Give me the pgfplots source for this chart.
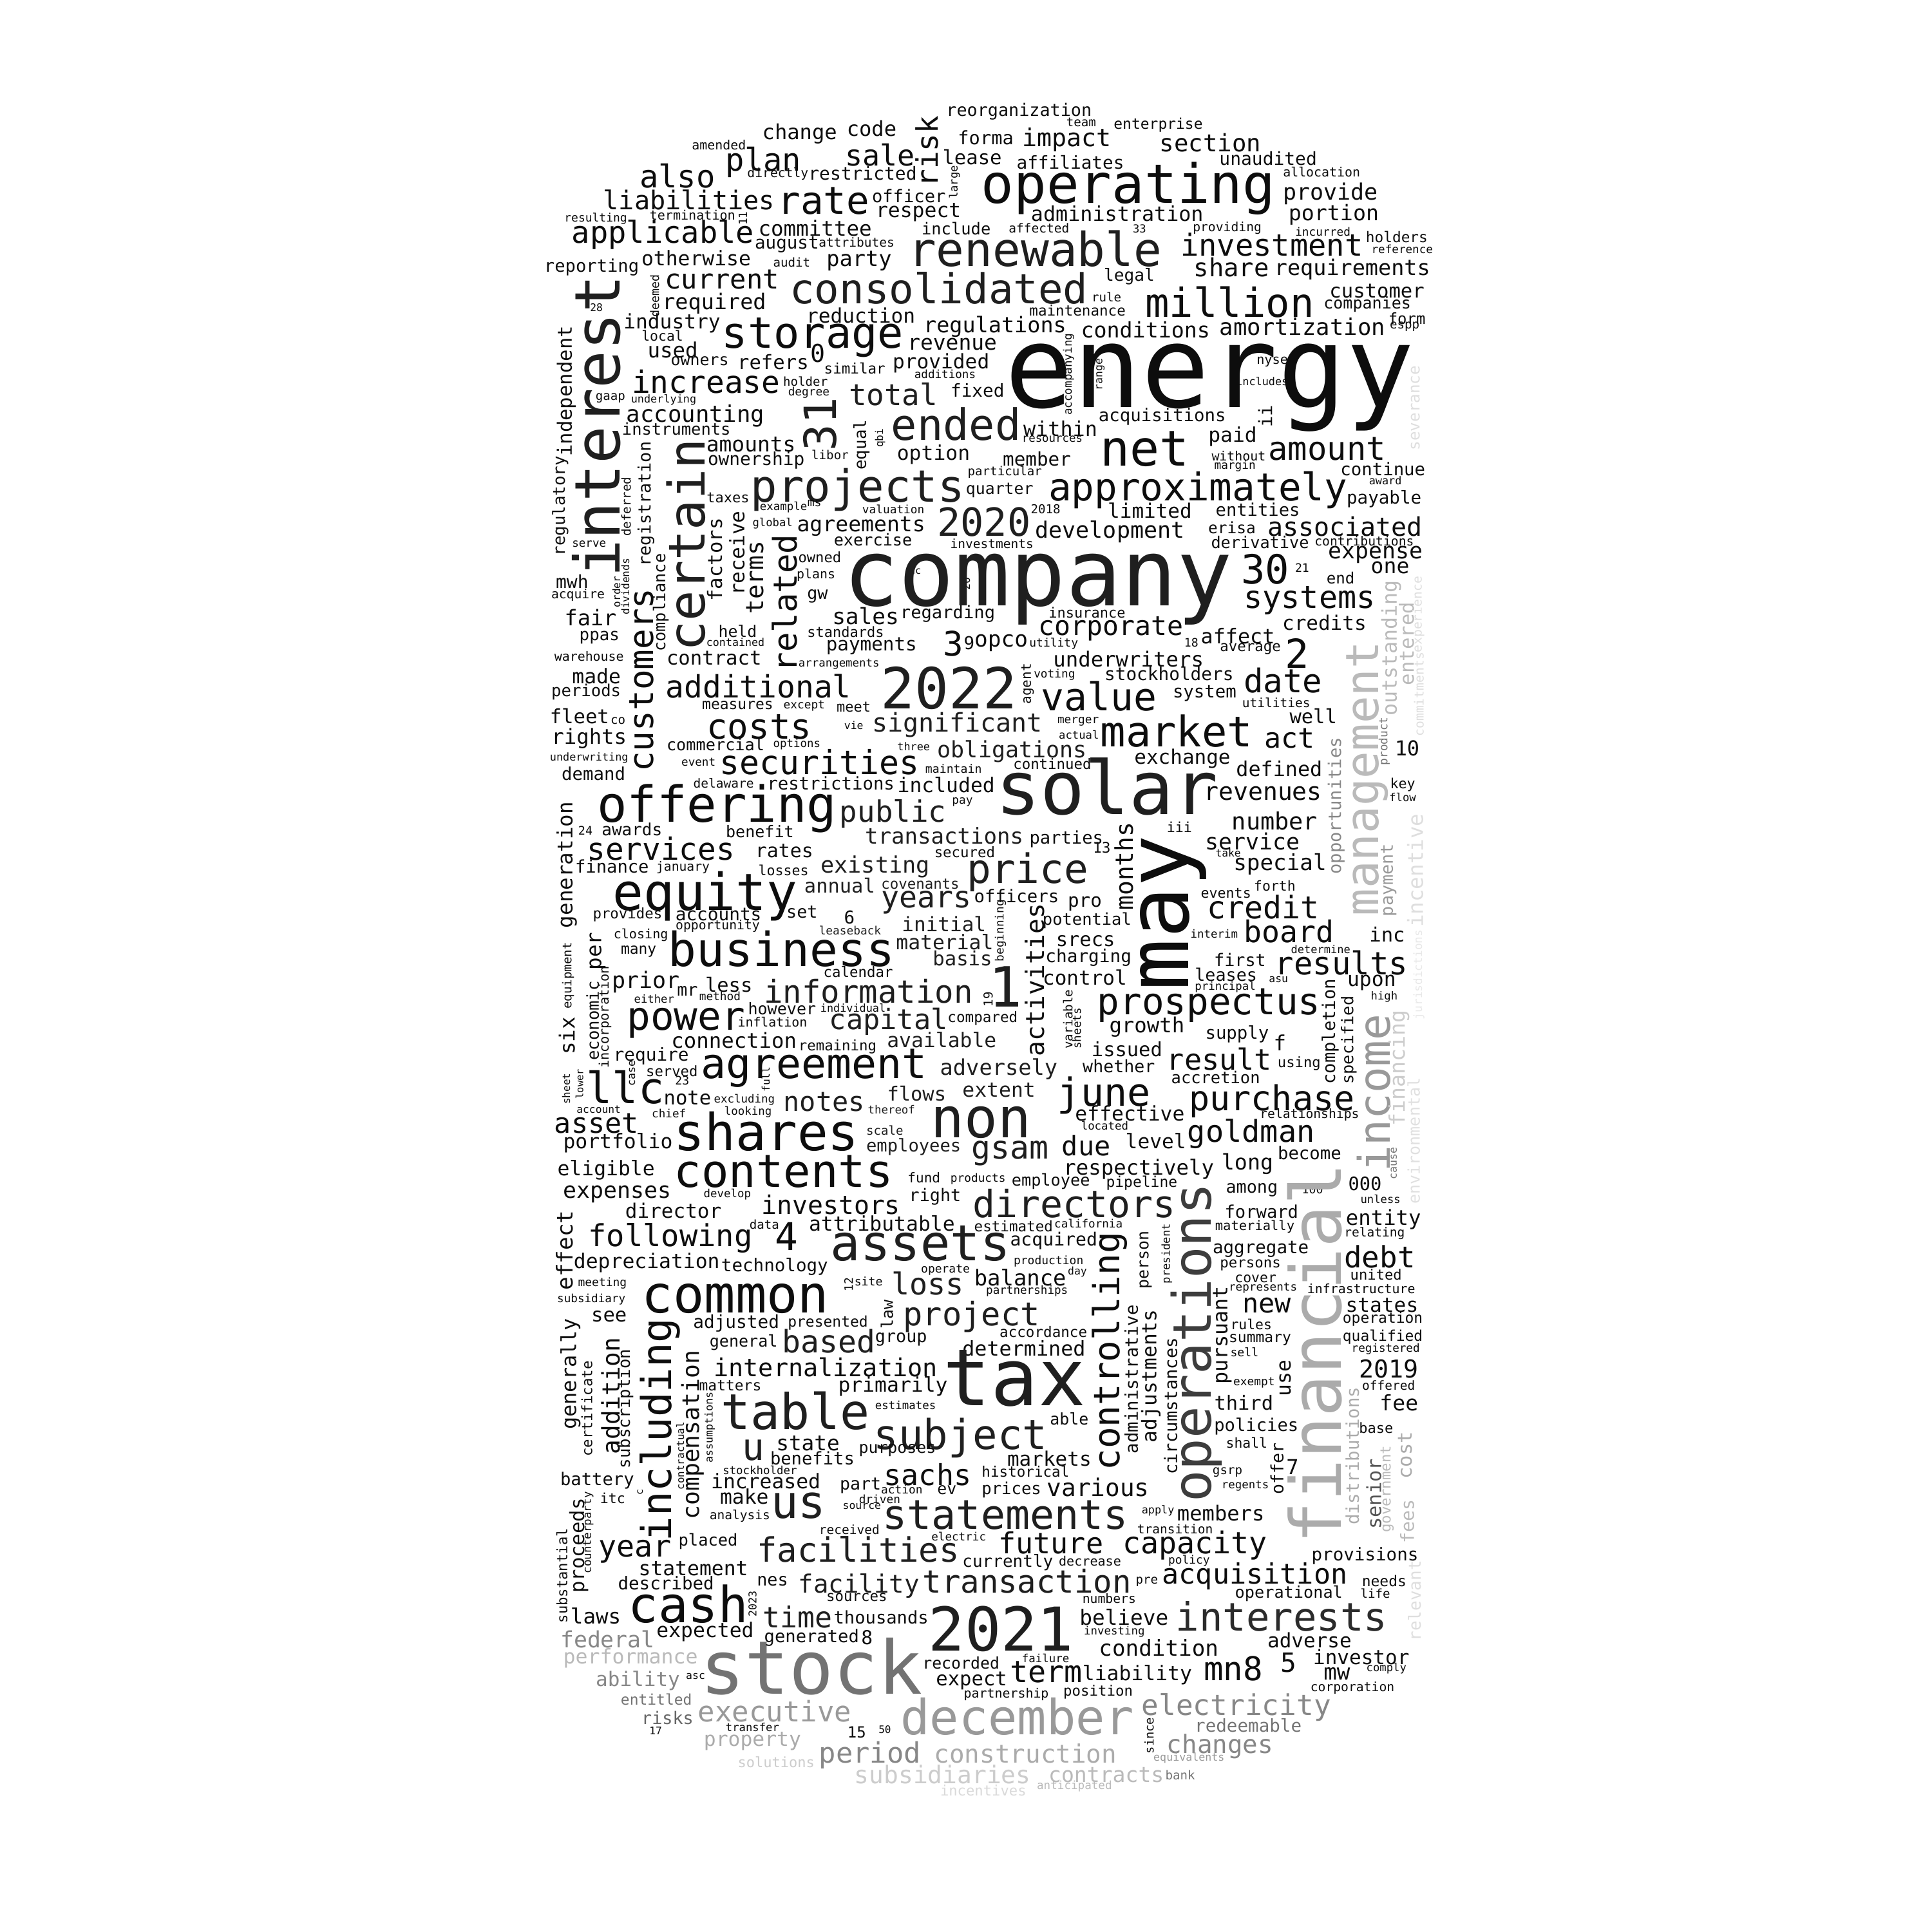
\documentclass[border=0pt]{standalone}
\usepackage{pgfplots}
\pgfplotsset{compat=1.18}
\usepackage{pgfplotstable}
\usepackage{fontspec}
\setmainfont{DejaVu Sans Mono}
\pgfplotstableread{
x y s r g w
827 90.5 14 0 95 reorganization
649 108.4 16.8 0 95 change
707.4 104.3 16.8 0 95 code
752.3 123 24 90 95 risk
800 111.5 15 0 95 forma
865.8 113.4 20 0 95 impact
877.5 99.3 10 0 95 team
940 101.3 12 0 95 enterprise
982.3 116 19.5 0 95 section
583.5 117.5 10.4 0 95 amended
619.6 131.7 25.5 0 95 plan
714.2 125.6 23.5 0 95 sale
789 127.6 16 0 95 lease
868.7 131.7 14.5 0 95 affiliates
1029.2 128.6 14.6 0 95 unaudited
549.8 142.8 25.5 0 95 also
631.3 141.3 10.3 0 95 directly
700.1 140.8 14.6 0 95 restricted
774.7 147.9 9 90 95 large
915.7 152.9 44 0 95 operating
559.1 162 21 0 95 liabilities
668.4 163 31 0 95 rate
737.6 159 14.2 0 95 officer
745.4 172.2 16.4 0 95 respect
483.5 177.7 9.4 0 95 resulting
562 174.7 10.5 0 95 termination
603 177.2 9.3 90 95 11
661.5 185.3 17 0 95 committee
776 185.3 13.3 0 95 include
906.7 173.2 16.6 0 95 administration
843.3 185.3 10.2 0 95 affected
924.8 185.8 9 0 95 33
996 185.3 10.3 0 95 providing
1079.9 157 18.3 0 95 provide
1082.4 174.2 17.4 0 95 portion
1072.6 139.8 10.4 0 95 allocation
1073.6 187.9 9.3 0 95 incurred
1133.6 192.4 11.9 0 95 holders
1138 202 9.2 0 95 reference
538.1 190.4 24.6 0 95 applicable
638.6 198.5 14.4 0 95 august
695.2 196.5 10.2 0 95 attributes
840 202 38 0 88 renewable
1032.1 198.5 24.6 0 95 investment
999.4 216.7 20.3 0 95 share
1097.5 218.8 17.5 0 95 requirements
480.1 216.7 14.2 0 95 reporting
565 209.6 16.4 0 95 otherwise
697.2 211.7 17.6 0 95 party
642.5 212.7 10 0 95 audit
586 226.9 22 0 95 current
531.3 240 9.6 90 95 deemed
484 249.6 8.5 0 95 28
579.6 246.1 17.5 0 95 required
762 234 33.5 0 88 consolidated
916.5 224.3 13.7 0 95 legal
898 241 10 0 95 rule
998 245 32.5 0 95 million
1117.5 236 16 0 95 customer
1109.7 247.1 13.1 0 95 companies
1141.8 258.3 12.5 0 95 form
1140 265.3 10 0 95 espp
874.5 252.2 11.8 0 95 maintenance
929.7 267.4 17.4 0 95 conditions
1057 265.3 18.6 0 95 amortization
807.5 265.3 17.5 0 95 regulations
698.6 256.2 16.3 0 95 reduction
772.8 279.5 17.2 0 95 revenue
763.7 294.7 16.3 0 95 provided
767 303.4 9.2 0 95 additions
659.6 274 35 0 95 storage
664 286.6 20 0 95 0
545.4 262.3 16.3 0 95 industry
537.6 272.4 11.2 0 95 local
546 284 17 0 95 used
567.9 293.2 13 0 95 owners
627.4 293.7 16 0 95 refers
693.7 298.8 11.8 0 95 similar
653.7 309.4 10 0 95 holder
656.4 318.5 9.3 0 95 degree
573 310 25 0 95 increase
725 320 24 0 88 total
793.3 317 14.5 0 95 fixed
484 345.9 51 90 88 interest
459.6 317.5 16 90 95 independent
495.4 323 10 0 95 gaap
538.6 324.6 8.8 0 95 underlying
564.5 337.3 18.6 0 95 accounting
548.9 347.9 13.3 0 95 instruments
665.4 344.4 36 90 88 31
776 344.4 35 0 88 ended
699.1 361 13.5 90 95 equal
714.3 355.5 8.5 90 95 qbi
609.5 360.6 17.2 0 95 amounts
613.7 373.7 14.5 0 95 ownership
673.7 369.3 10 0 95 libor
757.6 368.8 16.4 0 95 option
929.2 364.6 40 0 95 net
860.6 347.9 16.6 0 95 within
854 356.5 9.1 0 95 resources
867.2 303.8 9.2 90 95 accompanying
893.1 303.8 8.7 90 95 range
1032.6 293.7 10.6 0 95 nyse
1024.3 309.4 8.8 0 95 includes
982 314.9 92 0 95 energy
1148.7 331.2 12.7 90 13 severance
943.3 338.3 14.3 0 95 acquisitions
1026.7 338 15 90 95 ii
1000.4 354.5 16.4 0 95 paid
1005.3 370.2 10.4 0 95 without
1002.3 378.3 9.3 0 95 margin
1077.1 364.6 26.4 0 95 amount
1122.3 380.8 14.3 0 95 continue
1124.3 389.9 8.8 0 95 award
1123.3 405.1 14.4 0 95 payable
841.5 372.7 15.3 0 95 member
815.5 383.3 10 0 95 particular
811.3 398 13 0 95 quarter
848.6 413.2 10 0 95 2018
696 397.5 36 0 88 projects
590.9 404.1 11.5 0 95 taxes
635.9 411.7 9.1 0 95 example
661 408.7 9.5 0 95 ms
725 413.2 9.3 0 95 valuation
972.2 397.5 31 0 95 approximately
933.2 414.2 16.2 0 95 limited
1020.8 413.7 14.2 0 95 entities
798.6 423.7 31.5 0 88 2020
454.7 410.7 13.5 90 95 regulatory
524.3 409 14 90 95 registration
508.1 411.2 10 90 95 deferred
556.7 442.5 41 90 88 certain
520.7 552 27.5 90 95 customers
580 454.2 16 90 95 factors
598 449 16.3 90 95 receive
613 468.7 19.7 90 95 terms
637 489.5 26.5 90 95 related
698.9 427 17.3 0 95 agreements
627 424.7 9 0 95 global
708.5 438 13.2 0 95 exercise
805 441 10.2 0 95 investments
665.3 452 11.6 0 95 owned
662.3 466.5 10.4 0 95 plans
742.7 463.9 8 0 95 uc
784 473.8 8.7 90 95 20
464.3 472 14.6 0 95 mwh
478.1 441.7 9.2 0 95 serve
469.1 483 10.3 0 95 acquire
500.3 480.4 8.4 90 95 order
507.5 476 8.5 90 95 dividends
536.3 489.1 13.2 90 95 compliance
479.3 501.3 17.5 0 95 fair
486.5 517.4 13.5 0 95 ppas
478.1 532.6 10.4 0 95 warehouse
484.1 548.8 16.4 0 95 made
598.7 512.2 13 0 95 held
596.9 521.3 8.7 0 95 contained
579.5 534 16 0 95 contract
663.5 483.9 14 0 95 gw
702.5 500 18 0 95 sales
769.1 498 14.2 0 95 regarding
686.3 513 11.5 0 95 standards
707.3 524.3 15.3 0 95 payments
680.9 538.8 9.1 0 95 arrangements
773.9 522.2 27.4 0 95 3
786.5 521.7 14.4 0 95 9
812.5 522 18 0 95 opco
770 558.5 46 0 88 2022
615.5 556.7 25 0 95 additional
842.5 478.2 75 0 88 company
1026.8 462.1 32.5 0 95 30
1056.8 460.8 9.5 0 95 21
900.8 431.6 18.3 0 95 development
999.8 428.2 12.8 0 95 erisa
1091.6 427.3 20.9 0 95 associated
1022.6 440.3 13.2 0 95 derivative
1107.2 439 10.3 0 95 contributions
1116.2 450 18.2 0 95 expense
1128.2 460.8 17.3 0 95 one
1088 469.1 12.6 0 95 end
1062.8 487.4 25.3 0 95 systems
882.2 497 11.5 0 95 insurance
901.4 510 21.7 0 95 corporate
1074.8 505.2 16.2 0 95 credits
1004.6 516 16.6 0 95 affect
966.8 521.6 9.5 0 95 18
855.2 522.5 9.4 0 95 utility
1014.8 526.8 11.7 0 95 average
1052.6 530 32.4 0 95 2
915.8 534.8 16.9 0 95 underwriters
948.8 546.6 14.5 0 95 stockholders
855.8 547.5 9.3 0 95 voting
834 554.9 11 90 95 agent
1041.2 552.3 26.5 0 95 date
1109.5 632 37 90 27 management
1129 526 16.6 90 27 outstanding
1141.4 522.4 16 90 27 entered
1151 498.7 10.3 90 13 experience
1151.6 563.6 10.3 90 13 commitments
475.7 561.4 13.4 0 95 periods
470.3 581 16 0 95 fleet
501.5 585 10 0 95 co
478.1 599.3 16.9 0 95 rights
478.1 615 8.8 0 95 underwriting
481.7 628 14.3 0 95 demand
460 702 17 90 95 generation
475.1 674.2 9.6 0 95 24
512.9 673.3 13.6 0 95 awards
536.3 688.6 24.9 0 95 services
496.7 703.4 14.2 0 95 finance
554.3 704.3 10.3 0 95 january
509.3 742.2 11.7 0 95 provides
485 772 17 90 95 per
461 791.8 10 90 95 equipment
520.1 758.8 10.5 0 95 closing
518.3 772 12 0 95 many
572.3 727.5 41.5 0 95 equity
583.1 742.2 14.5 0 95 accounts
582.5 751.8 10.3 0 95 opportunity
650.9 740.4 14 0 95 set
634.2 770 38.1 0 95 business
616.1 589.8 28.3 0 95 costs
598.7 572.4 12 0 95 measures
652.7 572.8 9.3 0 95 except
692.9 574 11.5 0 95 meet
580.7 604.1 13.2 0 95 commercial
646.7 604.1 9.1 0 95 options
692.9 588.9 8.6 0 95 vie
777 588.5 20.9 0 88 significant
741.5 605.8 8.8 0 95 three
821.5 609.7 18.3 0 88 obligations
773.9 623.7 9.5 0 95 maintain
665.3 618.4 26.9 0 95 securities
566.9 618.5 9.2 0 95 event
587.3 635.9 10.2 0 95 delaware
674.3 635.5 14.3 0 95 restrictions
767.9 637.2 16.4 0 95 included
581.9 656 40.4 0 95 offering
724.7 660.7 23.9 0 88 public
781.1 651.1 9.3 0 95 pay
616.7 674.7 13.1 0 95 benefit
766.3 678.2 17.8 0 88 transactions
636.5 690.8 15.6 0 95 rates
782.9 691.7 11.7 0 95 secured
710.3 703.4 18.4 0 88 existing
635.9 706.5 11.3 0 95 losses
681.5 718.6 15.9 0 88 annual
746.9 717.3 11.7 0 88 covenants
834 708 32.8 0 88 price
825 727 14.3 0 95 officers
751.7 732.6 24.3 0 88 years
689.3 744.7 14.4 0 95 6
689.9 755.2 9.3 0 88 leaseback
766.1 750 16.2 0 88 initial
766.7 764.4 16.4 0 88 material
781.1 777.9 16 0 88 basis
696.5 788.8 11.7 0 95 calendar
812 755.3 9.3 90 95 beginning
891.8 564.9 31.2 0 95 value
977.6 562.7 14.3 0 95 system
1035.8 570.2 10.2 0 95 utilities
1065.8 581 15.9 0 95 well
875 585.8 9.3 0 95 merger
875.6 596.3 9 0 95 actual
954.8 593.2 34.2 0 95 market
1046.6 599.3 22.6 0 95 act
959.6 615.5 16.2 0 95 exchange
854 620.2 11.7 0 95 continued
1038.2 623.7 16.6 0 95 defined
898.5 638.5 60 0 88 solar
1025 644.2 19.9 0 95 revenues
1034.6 666.4 19.3 0 95 number
957.2 671.2 11.3 0 95 iii
865.4 681.2 14.2 0 95 parties
894.2 688.1 11.9 0 95 13
912.2 703 19.8 90 95 months
1016.6 683 18.2 0 95 service
996.8 692.1 8.5 0 95 take
1038.8 701.2 17.9 0 95 special
952 740.9 70 90 95 may
1084.4 654 14.2 90 47 opportunities
1123.4 601.5 9.3 90 55 product
1142 607.2 16.7 0 95 10
1138.4 636.8 11.3 0 95 key
1138.4 647.2 9 0 95 flow
1127 714.3 14 90 40 payment
1148.6 706.5 17 90 13 incentive
1151.5 791 9.3 90 9 jurisdictions
882.2 747 13.3 0 95 potential
880.4 733.5 15.3 0 95 pro
840 795.3 20.6 90 95 activities
881 763.5 15.9 0 95 srecs
883.4 777 14.5 0 95 charging
985.4 757.9 9.1 0 95 interim
995 724.8 11.3 0 95 events
1034.6 718.7 11.2 0 95 forth
1025 736.1 25.2 0 95 credit
1046 756.1 24.3 0 95 board
1125.8 758.3 16 0 95 inc
1071.8 770.5 8.9 0 95 determine
1006.4 778.8 14 0 95 first
1088.6 781.4 25.6 0 95 results
995 791 14 0 95 leases
1037.6 794.8 8.6 0 95 asu
994.4 801 9.1 0 95 principal
1113.2 797.5 16.4 0 95 upon
1123.4 808.8 9 0 95 high
880.4 793.2 16.2 0 95 control
981.2 816 30.1 0 95 prospectus
866.6 827.2 10 90 95 variable
873.8 834.6 9.2 90 95 sheets
930.8 833.5 16.9 0 95 growth
1004 839.3 14.3 0 95 supply
1038.8 846.2 17 0 95 f
1079.6 837.2 14.2 90 95 completion
1094.6 844.1 13.2 90 95 specified
914.6 851.5 15.9 0 95 issued
908 865.4 13.9 0 95 whether
989.6 859.4 23.6 0 95 result
1054.4 863.2 11.6 0 95 using
986.6 874.6 13.3 0 95 accretion
896 889 31.4 0 95 june
1032.2 893.8 27.9 0 95 purchase
1062.8 904.6 10.3 0 95 relationships
917 903.8 16.4 0 95 effective
896.6 913.8 9.1 0 95 located
1015.4 920.3 24.5 0 95 goldman
1114.7 887.2 35.4 90 40 income
1135.4 866.8 17.4 90 20 financing
1147.4 926 13.1 90 12 environmental
881.6 929.9 21.9 0 95 due
938 926 16.3 0 95 level
1062.8 935.6 14.3 0 95 become
1012.4 944.7 17.4 0 95 long
924.2 949.1 16.9 0 95 respectively
1131.2 944.3 8.7 90 55 cause
819.7 936 26 0 88 gsam
852.8 959 13.2 0 95 employee
926.6 960 12 0 95 pipeline
793.8 956.9 9.3 0 95 products
1016 965.6 14 0 95 among
1065.2 965.2 9.5 0 95 100
1107.8 960.8 15 0 95 000
1120.4 973 9 0 95 unless
1067 1098.5 57 90 33 financial
1023.8 983.4 14.2 0 95 forward
1122.8 989.5 16.9 0 95 entity
1018.4 995.6 10.7 0 95 materially
1115.6 1000.8 10.2 0 95 relating
883.4 993 9.2 0 95 california
822.6 995.2 11.8 0 95 estimated
855.2 1007 14.7 0 95 acquired
1023.2 1014 14.4 0 95 aggregate
1119.8 1020 23.9 0 95 debt
971 1089.7 43 90 76 operations
947 1017.4 9 90 95 president
929.8 1022.6 13 90 95 person
900.5 1096.7 29.2 90 95 controlling
851 1023.5 9.4 0 95 production
874.4 1032.3 8.6 0 95 day
828 1037 17.7 0 95 balance
833.5 1048 9.2 0 95 partnerships
788.5 1068.8 26.3 0 88 project
846.8 1081 11.8 0 95 accordance
831 1094.1 16.6 0 95 determined
823.3 1118.5 64 0 88 tax
779.5 1166.9 33.4 0 88 subject
867.8 1151.6 13 0 95 able
851.6 1183.8 16.2 0 95 markets
832.3 1194.3 11.8 0 95 historical
820.9 1209 13.4 0 95 prices
891.2 1206.9 19.7 0 95 various
816 1229.6 33.1 0 88 statements
918.2 1119.4 14.3 90 95 administrative
934 1116.8 16.3 90 95 adjustments
950 1141.2 14.2 90 95 circumstances
992 1083.7 16.6 90 95 pursuant
1014.8 1026.6 11.7 0 95 persons
1019 1037.9 11.2 0 95 cover
1025 1045.3 9.2 0 95 represents
1028 1059.7 21.9 0 95 new
1015.4 1075 11.2 0 95 rules
1022.6 1087.6 12 0 95 summary
1010 1097.2 9.5 0 95 sell
1017.8 1122.4 9.3 0 95 exempt
1043 1118.5 16.4 90 95 use
1009.4 1138.5 15.9 0 95 third
1019.6 1157.7 14.2 0 95 policies
1011.8 1171.2 11.2 0 95 shall
1036.4 1191.7 13.9 90 95 offer
1049 1190.8 16.7 0 95 7
996.2 1195 10 0 95 gsrp
1010.6 1206 9.1 0 95 regents
939.8 1226 8.8 0 95 apply
990.8 1228.2 16.8 0 95 members
953.6 1241 10.2 0 95 transition
852.8 1252 23.6 0 95 future
969.8 1254 24.4 0 95 capacity
1116.8 1034.4 11.6 0 95 united
1104.8 1045.7 10.4 0 95 infrastructure
1121.6 1059.3 16.3 0 95 states
1122.2 1070.6 12 0 95 operation
1122.2 1085 12 0 95 qualified
1124.6 1095 9.2 0 95 registered
1127 1111 20 0 95 2019
1127 1124.2 10.2 0 95 offered
1135.4 1138.5 17.3 0 95 fee
1116.8 1159 11.5 0 95 base
1097.6 1181.7 14.3 90 33 distributions
1115 1212.5 15.9 90 67 senior
1125.8 1208.6 11.7 90 27 government
1140.2 1181.2 15.9 90 33 cost
1142 1234.7 14.8 90 27 fees
1107.8 1262.7 14.4 0 95 provisions
1148 1299.2 13.6 90 13 relevant
524.3 797 18.3 0 95 prior
591.5 799.2 15.9 0 95 less
557.9 804.5 14 0 95 mr
584.3 808.4 9.3 0 95 method
530.9 810.6 9 0 95 either
704.9 804.5 25.6 0 88 information
481 828.4 13.4 90 95 economic
491 825.4 10.6 90 95 incorporation
460 840.6 17 90 95 six
556.7 830.2 31.9 0 95 power
634.7 818.4 13.1 0 95 however
692.3 818 8.8 0 95 individual
626.9 829.3 10.4 0 95 inflation
721.1 829.3 22.8 0 88 capital
802 811 10 90 95 19
797.5 826.7 11.8 0 95 compared
595.7 844.5 16.9 0 95 connection
679.7 849.4 11.7 0 95 remaining
764.3 844.1 16.4 0 88 available
528.5 857.1 14.5 0 95 require
660.5 866.7 33.9 0 95 agreement
810.6 867.6 17.6 0 88 adversely
545.3 869.4 11.6 0 95 served
553.7 877.2 9.5 0 95 23
513 871 8.7 90 95 case
621.5 876 8.5 90 95 full
507.5 882.4 35 0 95 llc
459.5 883.7 8.4 90 95 sheet
470.3 879.8 8.1 90 95 lower
557.9 891.1 16 0 95 note
604.1 892.5 9.1 0 95 excluding
668.9 894.2 21.9 0 88 notes
743.9 887.7 15.9 0 88 flows
810.7 884.6 16.4 0 88 extent
485.9 900.7 8.5 0 95 account
542.9 903.8 9.2 0 95 chief
607.1 902.5 9.1 0 95 looking
723.5 900.7 9.1 0 88 thereof
796.3 911.2 45 0 88 non
484.1 912 22.7 0 95 asset
501.5 927.7 16.4 0 95 portfolio
622.1 918.1 41.5 0 95 shares
718.1 917.2 10 0 88 scale
741.5 930.8 14.2 0 88 employees
491.9 949.5 16.4 0 95 eligible
635.9 950.8 36.9 0 95 contents
749.9 956 11 0 95 fund
500.9 969.1 18.2 0 95 expenses
590.3 969.1 9.1 0 95 develop
758.9 971.3 14 0 95 right
871.9 976.9 30.4 0 88 directors
674.3 977.8 20.8 0 95 investors
546.5 982.6 16.2 0 95 director
458 1014.8 17.9 90 95 effect
620.3 993.9 10 0 95 data
715.7 993 16.4 0 95 attributable
544.1 1004.8 24.6 0 95 following
638.3 1003.5 31 0 95 4
747 1009.2 40.3 0 88 assets
816 801 45 0 88 1
524.9 1025 16.4 0 95 depreciation
628.7 1028 14.4 0 95 technology
488.9 1041.4 9.4 0 95 meeting
479.9 1054.5 9.2 0 95 subsidiary
596.9 1054 42 0 95 common
688.7 1042.3 9.4 90 95 12
704.9 1040.1 9.5 0 95 site
767.3 1030.5 9.4 0 95 operate
752.9 1041.9 24.4 0 88 loss
494.3 1068.4 16 0 95 see
597.5 1074 14.5 0 95 adjusted
671.9 1073.6 12 0 95 presented
719.9 1066.6 13 90 95 law
672.5 1088.4 25.1 0 88 based
731.3 1087.1 14 0 95 group
603.5 1089.7 13.1 0 95 general
535.5 1160.3 33.4 90 95 including
670.1 1109.4 20.1 0 95 internalization
592.7 1124.6 12 0 95 matters
724.7 1125.4 16.4 0 95 primarily
463 1115 16.7 90 95 generally
476.3 1143.3 11.7 90 95 certificate
495.5 1132.9 19.7 90 95 addition
507.5 1143.3 13.4 90 95 subscription
562 1164.6 19 90 95 compensation
576 1158.5 8.7 90 95 assumptions
552 1181.6 8.3 90 95 contractual
645.5 1145 40 0 88 table
734.9 1140.3 9.1 0 95 estimates
611.3 1177.3 30.3 0 88 u
655.7 1171.2 17.1 0 95 state
659.3 1183.4 14.2 0 95 benefits
728.3 1176.9 13 0 95 purposes
616.7 1193.4 9.1 0 95 stockholder
752.9 1196.9 23.5 0 95 sachs
484.7 1201.6 14.2 0 95 battery
519.5 1211.2 8 90 95 c
621.5 1202.1 16.4 0 95 increased
698.3 1205.6 13.9 0 95 part
731.9 1209.1 9.3 0 95 action
768.5 1209.1 13 0 95 ev
604.1 1214.7 16.4 0 95 make
497.3 1216 11.3 0 95 itc
713.9 1216.9 9.3 0 95 driven
699.5 1222.5 8.6 0 95 source
647.9 1222.1 37 0 88 us
600.5 1230.4 10.2 0 95 analysis
689.3 1241.3 10.2 0 95 received
778.1 1247 9.2 0 95 electric
469.7 1254.4 16 90 95 proceeds
477.5 1243.9 9.2 90 95 counterparty
456 1278.8 11.6 90 95 substantial
515.3 1259 24.4 0 95 year
574.7 1251 13.3 0 95 placed
696.5 1257.5 27.3 0 88 facilities
562.7 1273.2 16.4 0 95 statement
540.5 1284.9 14.4 0 95 described
626.9 1283.1 14 0 95 nes
817.9 1268.3 13.6 0 95 currently
884.6 1267 10.5 0 95 decrease
965 1266.6 9.3 0 95 policy
697.1 1287 20.4 0 88 facility
833.5 1283.2 25.6 0 88 transaction
930.8 1283.6 10 0 95 pre
1018.4 1279.3 22.7 0 95 acquisition
1123.4 1283.1 12 0 95 needs
900.2 1297.5 10.3 0 95 numbers
1046 1293.2 13.2 0 95 operational
1116.2 1293.2 10 0 95 life
695.3 1296.2 11.7 0 95 sources
483.5 1311.5 17 0 95 laws
558.5 1301.9 40.4 0 95 cash
610.7 1301.5 8.7 90 95 2023
647.3 1312.3 23.4 0 88 time
715.1 1312.8 14.2 0 95 thousands
812.5 1322 49 0 88 2021
912.2 1312.3 17.1 0 95 believe
1040 1311.9 31.7 0 83 interests
904.4 1324.5 9.1 0 95 investing
940.4 1337.1 17.9 0 95 condition
1062.8 1331 16.2 0 95 adverse
848.6 1345.8 9.1 0 95 failure
1104.8 1345 16.2 0 95 investor
1046 1349.4 21.5 0 95 5
1001 1354.1 26.6 0 95 mn8
849.2 1357.2 24.4 0 95 term
923 1359.4 16.4 0 95 liability
1085 1358.5 17.9 0 95 mw
1125.2 1354.1 9 0 95 comply
1097.6 1369.8 10.3 0 95 corporation
816.7 1375 10.4 0 95 partnership
891.2 1373.3 11.7 0 95 position
779.9 1349.4 13 0 95 recorded
788.5 1364 16 0 95 expect
658.7 1352.3 60 0 55 stock
825.7 1393.3 39.4 0 40 december
493.1 1330.2 18.2 0 47 federal
572.3 1324.5 16.4 0 95 expected
658.7 1329.3 14.2 0 95 generated
703.7 1328.9 15.5 0 95 8
511.7 1345.5 16.5 0 27 performance
517.7 1364.2 16.2 0 47 ability
564.5 1360.3 8.6 0 95 asc
532.7 1379 12 0 55 entitled
628.7 1388.9 23 0 40 executive
541.7 1394.2 14 0 60 risks
610.7 1402 9 0 95 transfer
532.1 1404.6 8.5 0 95 17
695.3 1406 12.5 0 95 15
718.1 1403.8 8.4 0 95 50
610.7 1413 16.4 0 33 property
629.9 1429.9 11.5 0 20 solutions
706.1 1424.3 22.9 0 47 period
832.3 1423 20.5 0 33 construction
765 1440 19.8 0 20 subsidiaries
897.8 1440.4 17.3 0 27 contracts
957.8 1440.4 10 0 55 bank
798 1453 11.6 0 15 incentives
872 1449.9 9.2 0 27 anticipated
1003.4 1385.9 23.2 0 47 electricity
1013 1400.3 14.4 0 55 redeemable
932.6 1408.6 9.8 90 95 since
990.2 1417.3 20.5 0 47 changes
965 1426.9 8.7 0 40 equivalents
}\words
\begin{document}
\begin{tikzpicture}
\begin{axis}[
  width=1568pt, height=1568pt, scale only axis,
  xmin=0, xmax=1568, ymin=0, ymax=1568, y dir=reverse,
  hide axis, clip=false]
\addplot[only marks, mark=none,
  point meta=explicit symbolic,
  visualization depends on={\thisrow{s}\as\fs},
  visualization depends on={\thisrow{r}\as\rot},
  visualization depends on={\thisrow{g}\as\gl},
  nodes near coords,
  nodes near coords style={anchor=center, inner sep=0pt, outer sep=0pt,
    rotate=\rot, text=black!\gl, font=\fontsize{\fs}{\fs}\selectfont}
] table[x=x, y=y, meta=w]{\words};
\end{axis}
\path (current axis.south west) rectangle (current axis.north east);
\end{tikzpicture}
\end{document}
